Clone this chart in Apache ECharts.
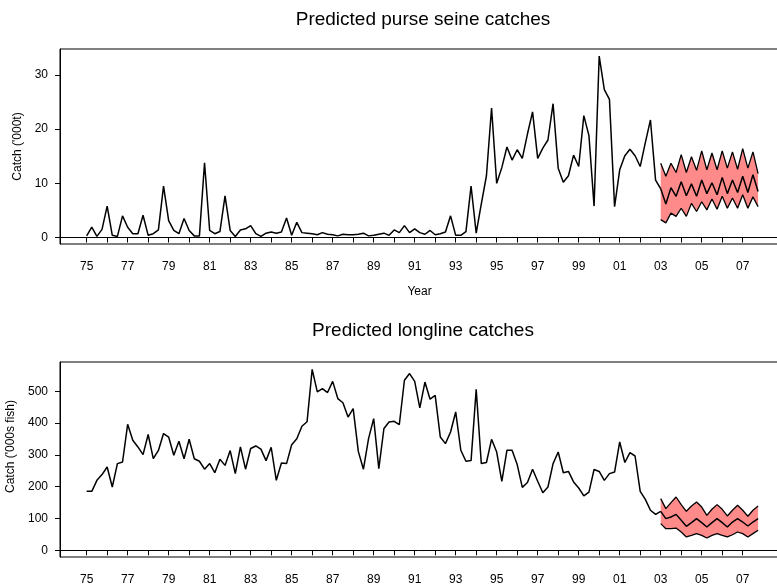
<!DOCTYPE html>
<html>
<head>
<meta charset="utf-8">
<script src="https://cdn.jsdelivr.net/npm/echarts@6/dist/echarts.min.js"></script>
<style>
html,body{margin:0;padding:0;background:#fff;}
#chart{width:777px;height:588px;}
</style>
</head>
<body>
<div id="chart"></div>
<script>
// Quarterly series starting 1975 Q1
const startYear = 1975;
const forecastStartYear = 2003;

const purseSeineHist = [
  0.3,1.9,0.2,1.5, 5.8,0.4,0.2,4.0, 1.9,0.7,0.7,4.1, 0.4,0.7,1.4,9.5,
  3.1,1.3,0.7,3.5, 1.3,0.3,0.3,13.8, 1.3,0.7,1.1,7.7, 1.3,0.2,1.4,1.6,
  2.2,0.7,0.2,0.8, 1.0,0.8,1.0,3.6, 0.4,2.8,0.9,0.8, 0.7,0.5,0.9,0.6,
  0.5,0.3,0.6,0.5, 0.5,0.6,0.8,0.3, 0.4,0.6,0.8,0.4, 1.4,0.9,2.2,0.9,
  1.6,0.9,0.6,1.3, 0.5,0.7,1.0,4.0, 0.4,0.4,1.1,9.5, 0.8,6.2,11.4,23.9,
  10.0,12.9,16.7,14.3, 16.2,14.6,19.1,23.2, 14.6,16.5,18.0,24.7, 12.8,10.2,11.4,15.2,
  13.1,22.5,18.8,5.8, 33.5,27.3,25.5,5.7, 12.5,15.1,16.3,15.1, 13.1,17.5,21.7,10.6,
  9.0
];
const purseSeineMean = [9.0,6.2,9.2,7.6,10.3,7.7,9.9,7.6,10.6,8.1,10.1,7.9,11.1,8.1,10.6,8.3,11.3,8.3,11.6,8.5];
const purseSeineUpper = [13.7,11.3,13.7,12.0,15.3,12.0,14.9,12.4,16.0,12.5,15.6,12.5,16.0,12.8,15.8,12.6,16.4,12.8,15.8,11.8];
const purseSeineLower = [3.3,2.7,4.5,3.9,5.4,3.9,6.3,4.8,6.6,5.1,7.1,5.2,7.6,5.4,7.3,5.4,7.9,5.4,7.5,5.7];

const longlineHist = [
  185.5,185.5,220,238, 262,199,272.6,277.7, 396,346,325,301, 364,288,314,367,
  356,299,343,288, 349,288,280,255, 272.6,244,286,267, 313.5,241,325,255,
  320,328,318,282, 324,220,274.6,272.6, 332,351,390,404, 569,498,508,496,
  531,477,464,419, 445.5,311,255,351, 414,257,383,403.5, 405.6,395,534.6,555.6,
  531,447.6,529,475, 487,356,335.5,372, 435,314.5,280,282, 506,272.6,276,349,
  309,217,314.5,314.5, 269.5,198,213,255, 217,181,199,272.6, 309,244,248,215,
  196,171,183,254, 248,220,241,246, 340.6,276,307,296.5, 185.5,160,126,113,
  122.6
];
const longlineMean = [122.6,99.6,104.8,113,94.3,75.5,87,99.6,87,73.4,87,99.6,87,73.4,89,99.6,89,76.5,89,99.6];
const longlineUpper = [162.5,131,150,167.6,143.7,122.6,139.3,152,136,110,129,143.7,129,108,126,141.5,126,107,126,139.3];
const longlineLower = [84,68,68,70,57.6,42,47,52.4,47,38.7,47,52.4,47,42,49,57.6,52.4,42,52.4,63];

const yearTicks = [];
for (let y = 1975; y <= 2007; y++) yearTicks.push(y);
const yearLabels = yearTicks.filter(y => (y - 1975) % 2 === 0);
const purseTicks = [0, 10, 20, 30];
const longTicks = [0, 100, 200, 300, 400, 500];

const titles = ['Predicted purse seine catches', 'Predicted longline catches'];
const yNames = ["Catch ('000t)", "Catch ('000s fish)"];
const xName = 'Year';

function hist(arr) { return arr.map((v, i) => [startYear + i / 4, v]); }
function fc(arr) { return arr.map((v, i) => [forecastStartYear + i / 4, v]); }
function bandData(u, l) { return u.map((v, i) => [forecastStartYear + i / 4, l[i], v]); }

const BAND = '#ff8a8a';
const FONT = 'Liberation Sans, Arial, sans-serif';

function xAxis(gi, withName) {
  return {
    type: 'value', gridIndex: gi,
    min: 1973.70, max: 2008.77,
    name: withName ? xName : '', nameLocation: 'middle', nameGap: 42,
    nameTextStyle: { color: '#000', fontSize: 12, fontFamily: FONT },
    axisLine: { show: true, lineStyle: { color: '#000', width: 1 } },
    axisTick: { show: true, customValues: yearTicks, length: 5, lineStyle: { color: '#000' } },
    axisLabel: { customValues: yearLabels, margin: 17, color: '#000', fontSize: 12, fontFamily: FONT,
      formatter: v => String(Math.round(v)).slice(2) },
    splitLine: { show: false }
  };
}
function yAxis(gi, min, max, ticks, name, pad) {
  return {
    type: 'value', gridIndex: gi, min: min, max: max,
    name: name, nameLocation: 'middle', nameGap: 32,
    nameTextStyle: { color: '#000', fontSize: 12, fontFamily: FONT, padding: pad },
    axisLine: { show: true, lineStyle: { color: '#000', width: 1 } },
    axisTick: { show: true, customValues: ticks, length: 5, lineStyle: { color: '#000' } },
    axisLabel: { customValues: ticks, margin: 12, color: '#000', fontSize: 12, fontFamily: FONT },
    splitLine: { show: false }
  };
}

function lineSeries(xi, data, w) {
  return { type: 'line', xAxisIndex: xi, yAxisIndex: xi, data: data, symbol: 'none',
    lineStyle: { color: '#000', width: w || 1.5 }, z: 5, animation: false };
}

function bandSeries(k, data) {
  return {
    type: 'custom', xAxisIndex: k, yAxisIndex: k, data: data, z: 2, animation: false,
    renderItem: function (params, api) {
      if (params.dataIndex !== 0) return null;
      const top = [], bot = [];
      for (let i = 0; i < data.length; i++) {
        top.push(api.coord([data[i][0], data[i][2]]));
        bot.push(api.coord([data[i][0], data[i][1]]));
      }
      return { type: 'polygon', shape: { points: top.concat(bot.reverse()) },
        style: { fill: BAND, stroke: null } };
    }
  };
}

const series = [];
[[purseSeineHist, purseSeineMean, purseSeineUpper, purseSeineLower],
 [longlineHist, longlineMean, longlineUpper, longlineLower]].forEach((s, k) => {
  const [h, m, u, l] = s;
  series.push(bandSeries(k, bandData(u, l)));
  series.push(lineSeries(k, fc(u), 1.3));
  series.push(lineSeries(k, fc(l), 1.3));
  series.push(lineSeries(k, fc(m), 1.5));
  series.push(lineSeries(k, hist(h), 1.5));
});

const chart = echarts.init(document.getElementById('chart'), null, { renderer: 'canvas' });
chart.setOption({
  backgroundColor: '#fff',
  animation: false,
  title: [
    { text: titles[0], left: 418, top: 5, textAlign: 'center',
      textStyle: { color: '#000', fontSize: 19, fontWeight: 'normal', fontFamily: FONT } },
    { text: titles[1], left: 418, top: 316, textAlign: 'center',
      textStyle: { color: '#000', fontSize: 19, fontWeight: 'normal', fontFamily: FONT } }
  ],
  grid: [
    { left: 60, right: -2, top: 49, height: 195, show: true, borderColor: '#000', borderWidth: 1,
      backgroundColor: 'transparent', outerBoundsMode: 'none', containLabel: false },
    { left: 60, right: -2, top: 362, height: 195, show: true, borderColor: '#000', borderWidth: 1,
      backgroundColor: 'transparent', outerBoundsMode: 'none', containLabel: false }
  ],
  xAxis: [xAxis(0, true), xAxis(1, false)],
  yAxis: [
    yAxis(0, -1.2, 34.8, purseTicks, yNames[0], 0),
    yAxis(1, -21, 592, longTicks, yNames[1], [0, 0, 0, 26])
  ],
  series: series
});
</script>
</body>
</html>
